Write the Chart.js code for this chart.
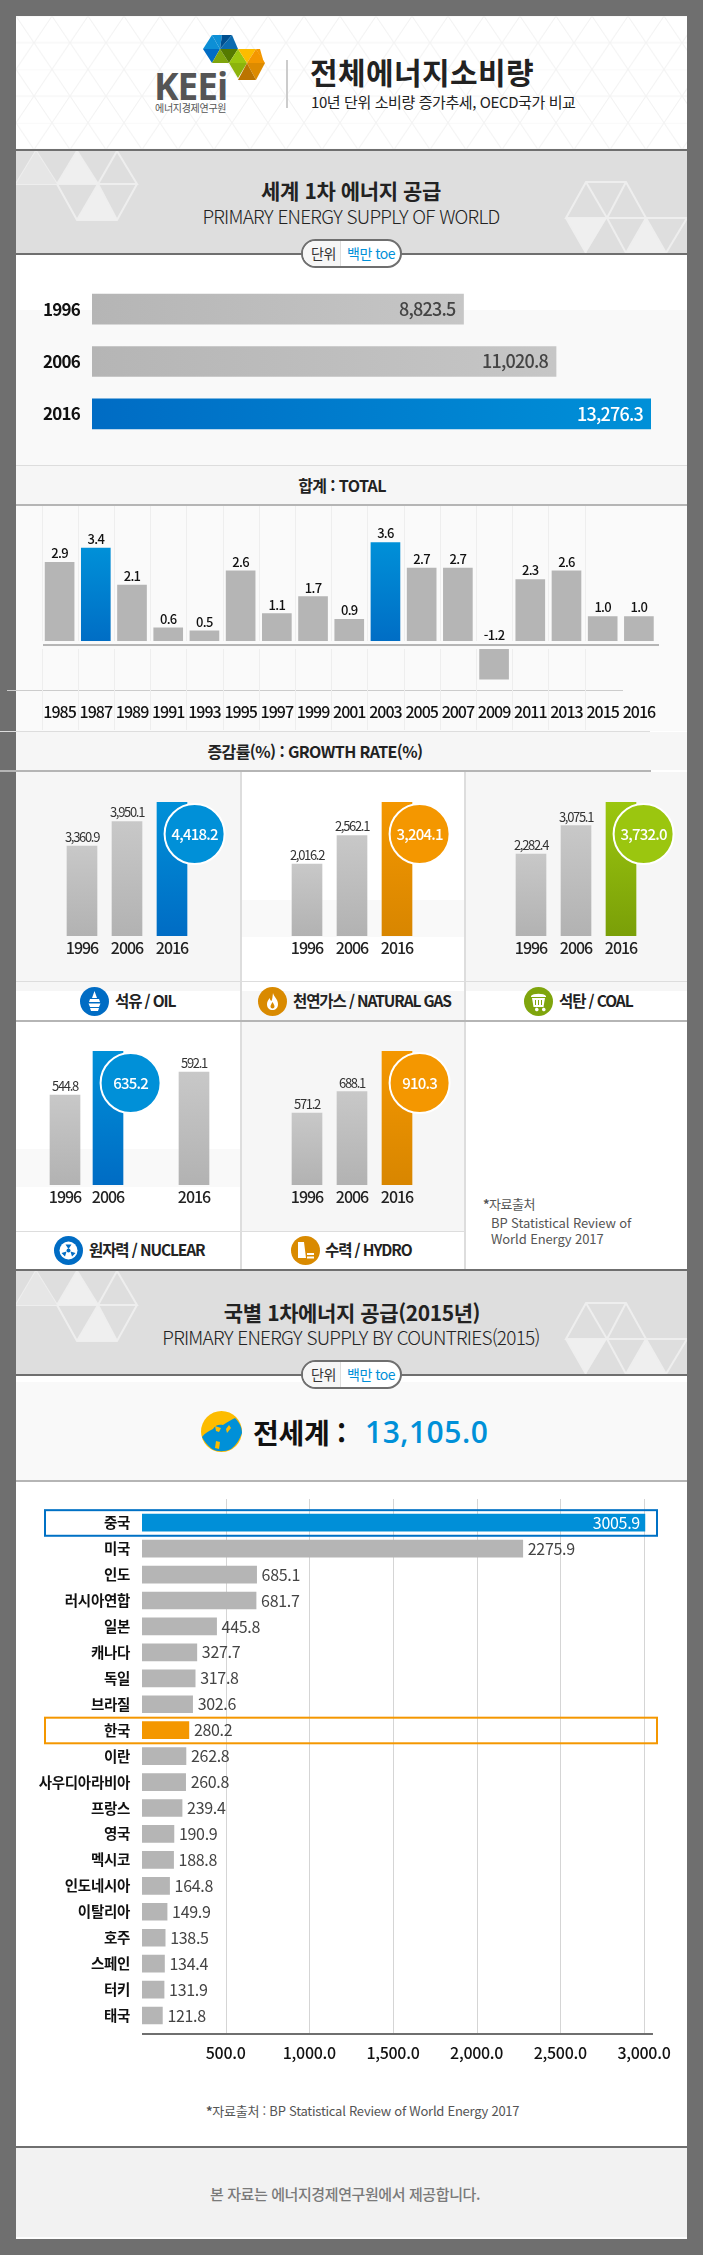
<!DOCTYPE html>
<html lang="ko">
<head>
<meta charset="utf-8">
<title>전체에너지소비량</title>
<script src="https://cdn.jsdelivr.net/npm/chart.js@4"></script>
<style>
  html,body{margin:0;padding:0;background:#6f6f6f}
  body{position:relative;width:703px;height:2255px;overflow:hidden;font-family:"Noto Sans CJK KR","Noto Sans",sans-serif;color:#222}
  .box,.t,canvas,svg.abs{position:absolute;display:block}
  .t{white-space:nowrap;line-height:1;transform:translateY(-50%)}
  .c{transform:translate(-50%,-50%)}
  .b{font-weight:700}
  .head{font-size:21px;font-weight:700;letter-spacing:-.4px;color:#222}
  .sub{font-size:19px;font-weight:300;letter-spacing:-.75px;color:#222}
  .cap{font-size:16px;font-weight:700;letter-spacing:-.6px;color:#222}
  .leg{font-size:15.5px;font-weight:700;letter-spacing:-1.1px;color:#222}
  .pill{position:absolute;left:301px;width:97px;height:25px;border:2px solid #6f6f6f;border-radius:15px;background:#fff;overflow:hidden}
  .pill i{position:absolute;left:0;top:0;bottom:0;width:37px;background:#f6f6f6;border-right:1px solid #ddd}
  .pill span{position:absolute;top:12px;transform:translateY(-50%);font-size:14px;line-height:1;white-space:nowrap;letter-spacing:-.5px}
</style>
</head>
<body>
<!-- panel backgrounds -->
<div class="box" style="left:16px;top:16px;width:671px;height:2223px;background:#fff"></div>
<svg class="abs" style="left:16px;top:16px" width="671" height="133">
  <defs><pattern id="lat" width="36" height="53.4" patternUnits="userSpaceOnUse" y="0">
    <path d="M0 0L18 26.7L36 0M0 53.4L18 26.7L36 53.4M0 26.7H36M0 0H36" fill="none" stroke="#f3f3f3" stroke-width="1"/>
  </pattern></defs>
  <rect width="671" height="133" fill="url(#lat)"/>
</svg>
<div class="box" style="left:16px;top:149px;width:671px;height:2px;background:#6f6f6f"></div>
<div class="box" style="left:16px;top:151px;width:671px;height:102px;background:#dedede"></div>
<div class="box" style="left:16px;top:253px;width:671px;height:2px;background:#6f6f6f"></div>
<div class="box" style="left:16px;top:310px;width:671px;height:155px;background:#f9f9f9"></div>
<div class="box" style="left:16px;top:465px;width:671px;height:1px;background:#ddd"></div>
<div class="box" style="left:16px;top:466px;width:671px;height:38px;background:#f6f6f6"></div>
<div class="box" style="left:16px;top:504px;width:671px;height:2px;background:#b5b5b5"></div>
<div class="box" style="left:16px;top:506px;width:671px;height:225px;background:#fafafa"></div>
<div class="box" style="left:7px;top:690px;width:616px;height:1px;background:#ccc"></div>
<div class="box" style="left:0;top:731px;width:650px;height:1px;background:#ddd"></div>
<div class="box" style="left:16px;top:732px;width:671px;height:38px;background:#f6f6f6"></div>
<div class="box" style="left:0;top:770px;width:651px;height:2px;background:#b5b5b5"></div>

<!-- small multiple cells -->
<div class="box" style="left:16px;top:772px;width:224px;height:209px;background:#f6f6f6"></div>
<div class="box" style="left:16px;top:981px;width:224px;height:10px;background:#f6f6f6"></div>
<div class="box" style="left:242px;top:900px;width:222px;height:37px;background:#f9f9f9"></div>
<div class="box" style="left:242px;top:991px;width:222px;height:29px;background:#f6f6f6"></div>
<div class="box" style="left:466px;top:772px;width:221px;height:219px;background:#f6f6f6"></div>
<div class="box" style="left:16px;top:1149px;width:224px;height:38px;background:#f9f9f9"></div>
<div class="box" style="left:242px;top:1022px;width:222px;height:209px;background:#f6f6f6"></div>
<div class="box" style="left:16px;top:981px;width:671px;height:1px;background:#ddd"></div>
<div class="box" style="left:16px;top:1231px;width:448px;height:1px;background:#ddd"></div>
<div class="box" style="left:240px;top:772px;width:2px;height:497px;background:#ddd"></div>
<div class="box" style="left:464px;top:772px;width:2px;height:497px;background:#ddd"></div>
<div class="box" style="left:16px;top:1020px;width:671px;height:2px;background:#b5b5b5"></div>

<div class="box" style="left:16px;top:1269px;width:671px;height:2px;background:#6f6f6f"></div>
<div class="box" style="left:16px;top:1271px;width:671px;height:103px;background:#dedede"></div>
<div class="box" style="left:16px;top:1374px;width:671px;height:2px;background:#6f6f6f"></div>
<div class="box" style="left:16px;top:1382px;width:671px;height:98px;background:#f9f9f9"></div>
<div class="box" style="left:16px;top:1480px;width:671px;height:2px;background:#b5b5b5"></div>
<div class="box" style="left:16px;top:2146px;width:671px;height:2px;background:#6f6f6f"></div>
<div class="box" style="left:16px;top:2148px;width:671px;height:89px;background:#f2f2f2"></div>

<!-- band triangles -->
<svg class="abs" style="left:16px;top:151px" width="671" height="102" id="tri1" viewBox="16 151 671 102">
  <g fill="none" stroke="#eee" stroke-width="2">
    <path d="M36 151L16 184H137L117 151L98 184L77 151L57 184L36 151M57 184L77 220H117L137 184M77 220L98 184L117 220"/>
    <path d="M586 182H626L646 218H566ZM607 218L586 182M607 218L626 182M566 218L586 253M607 218L626 253L646 218L666 253L687 218H646"/>
  </g>
  <path d="M36 151L16 184H57Z" fill="#e6e6e6"/>
  <path d="M77 151L57 184H98Z" fill="#efefef"/>
  <path d="M98 184L77 220H117Z" fill="#efefef"/>
  <path d="M566 218H607L586 253Z" fill="#efefef"/>
  <path d="M646 218L626 253H666Z" fill="#efefef"/>
</svg>
<svg class="abs" style="left:16px;top:1271px" width="671" height="103" viewBox="16 1271 671 103">
  <g fill="none" stroke="#eee" stroke-width="2">
    <path d="M36 1271L16 1305H137L117 1271L98 1305L77 1271L57 1305L36 1271M57 1305L77 1341H117L137 1305M77 1341L98 1305L117 1341"/>
    <path d="M586 1303H626L646 1339H566ZM607 1339L586 1303M607 1339L626 1303M566 1339L586 1374M607 1339L626 1374L646 1339L666 1374L687 1339H646"/>
  </g>
  <path d="M36 1271L16 1305H57Z" fill="#e6e6e6"/>
  <path d="M77 1271L57 1305H98Z" fill="#efefef"/>
  <path d="M98 1305L77 1341H117Z" fill="#efefef"/>
  <path d="M566 1339H607L586 1374Z" fill="#efefef"/>
  <path d="M646 1339L626 1374H666Z" fill="#efefef"/>
</svg>

<!-- header -->
<svg class="abs" style="left:200px;top:33px" width="68" height="50" viewBox="0 0 68 50">
  <path d="M12 2H22L20 16Z" fill="#0d8fd6"/><path d="M22 2H32L20 16Z" fill="#004f8f"/><path d="M32 2L38 16H20Z" fill="#0a6bb0"/>
  <path d="M12 2L3 16H20Z" fill="#0d8fd6"/><path d="M3 16L12 30L20 16Z" fill="#006cc4"/>
  <path d="M20 16L12 30H29Z" fill="#7fa50d"/><path d="M20 16H38L29 30Z" fill="#557a00"/>
  <path d="M38 16L29 30H47Z" fill="#9bc60f"/><path d="M38 16H56L47 30Z" fill="#fdbc00"/>
  <path d="M56 16L47 30H65Z" fill="#f49700"/><path d="M56 16L64 30L60 16Z" fill="#f49700"/>
  <path d="M29 30H47L38 45Z" fill="#8cb30c"/><path d="M47 30H65L56 47Z" fill="#dd8b00"/><path d="M47 30L56 47H38Z" fill="#bb7400"/>
</svg>
<div class="t b" style="left:154px;top:85px;font-size:37px;letter-spacing:-1px;color:#555;font-family:'Open Sans',sans-serif">KEEi</div>
<div class="t" style="left:155px;top:108px;font-size:10px;letter-spacing:-.3px;color:#555">에너지경제연구원</div>
<div class="box" style="left:286px;top:60px;width:2px;height:48px;background:#ccc"></div>
<div class="t b" style="left:310px;top:71px;font-size:30px;letter-spacing:.4px;color:#222">전체에너지소비량</div>
<div class="t" style="left:311px;top:101px;font-size:15px;letter-spacing:-.4px;color:#222">10년 단위 소비량 증가추세, OECD국가 비교</div>

<!-- section 1 -->
<div class="t c head" style="left:351px;top:190px">세계 1차 에너지 공급</div>
<div class="t c sub" style="left:351px;top:215px">PRIMARY ENERGY SUPPLY OF WORLD</div>
<div class="pill" style="top:239px"><i></i><span style="left:8px;color:#333">단위</span><span style="left:44px;color:#0090d8">백만 toe</span></div>
<canvas id="worldChart" width="671" height="217" style="left:16px;top:253px"></canvas>

<div class="t c cap" style="left:342px;top:485px">합계 : TOTAL</div>
<canvas id="growthChart" width="671" height="224" style="left:16px;top:506px"></canvas>
<div class="t c cap" style="left:315px;top:751px">증감률(%) : GROWTH RATE(%)</div>

<!-- small multiples -->
<canvas id="oilChart" width="224" height="209" style="left:16px;top:772px"></canvas>
<canvas id="gasChart" width="222" height="209" style="left:242px;top:772px"></canvas>
<canvas id="coalChart" width="221" height="209" style="left:466px;top:772px"></canvas>
<canvas id="nuclearChart" width="224" height="209" style="left:16px;top:1021px"></canvas>
<canvas id="hydroChart" width="222" height="209" style="left:242px;top:1021px"></canvas>

<!-- legend icons -->
<svg class="abs" style="left:80px;top:987px" width="29" height="29" viewBox="0 0 29 29"><circle cx="14.5" cy="14.5" r="14.5" fill="#006cc4"/><path d="M14.5 4L17 11H12ZM10 12H19L20 15H9ZM8.5 16.500H20.500L19 20H10ZM10 21H19L18 24H11Z" fill="#fff"/></svg>
<div class="t leg" style="left:115px;top:1001px">석유 / OIL</div>
<svg class="abs" style="left:258px;top:987px" width="29" height="29" viewBox="0 0 29 29"><circle cx="14.5" cy="14.500" r="14.5" fill="#d98a00"/><path d="M15 6C16 10 20 12 20 17C20 21 17.500 23 14.500 23C11.500 23 9 21 9 17C9 14.500 10.500 13 11.500 11C12 13 13 14 13.500 14C14.500 12 14.500 9 15 6ZM14.500 15C13.500 17 12.500 18 12.500 19.500C12.500 20.800 13.500 21.500 14.500 21.500C15.500 21.500 16.500 20.800 16.500 19.500C16.500 18 15.500 17 14.500 15Z" fill="#fff" fill-rule="evenodd"/></svg>
<div class="t leg" style="left:293px;top:1001px">천연가스 / NATURAL GAS</div>
<svg class="abs" style="left:524px;top:987px" width="29" height="29" viewBox="0 0 29 29"><circle cx="14.5" cy="14.5" r="14.5" fill="#7fa50d"/><path d="M7 9C9 6 20 6 22 9V10H7ZM8 11H21L19.500 20H9.500ZM11 22.500A1.800 1.800 0 1 0 11 22.400ZM18 22.500A1.800 1.800 0 1 0 18 22.400Z" fill="#fff"/><path d="M11.500 13V18M14.500 13V18M17.500 13V18" stroke="#7fa50d"/></svg>
<div class="t leg" style="left:559px;top:1001px">석탄 / COAL</div>
<svg class="abs" style="left:54px;top:1236px" width="29" height="29" viewBox="0 0 29 29"><circle cx="14.5" cy="14.5" r="14.5" fill="#006cc4"/><circle cx="14.5" cy="14.5" r="9" fill="#fff"/><circle cx="14.500" cy="14.500" r="2" fill="#006cc4"/><path d="M11.500 8.500L14.500 13L17.500 8.500ZM7.500 17L12.500 15.500L11 20.500ZM21.500 17L16.500 15.500L18 20.500Z" fill="#006cc4"/></svg>
<div class="t leg" style="left:89px;top:1250px">원자력 / NUCLEAR</div>
<svg class="abs" style="left:291px;top:1236px" width="29" height="29" viewBox="0 0 29 29"><circle cx="14.5" cy="14.5" r="14.5" fill="#d98a00"/><path d="M7 6H13L15 22H7ZM16 17H23V19H16ZM16 20.500H23V22.500H16Z" fill="#fff"/></svg>
<div class="t leg" style="left:325px;top:1250px">수력 / HYDRO</div>

<div class="t" style="left:483px;top:1203px;font-size:13px;letter-spacing:-.5px;color:#555"><b>*</b>자료출처</div>
<div class="t" style="left:491px;top:1222px;font-size:13px;letter-spacing:-.1px;color:#555">BP Statistical Review of</div>
<div class="t" style="left:491px;top:1238px;font-size:13px;letter-spacing:-.1px;color:#555">World Energy 2017</div>

<!-- section 2 -->
<div class="t c head" style="left:352px;top:1312px">국별 1차에너지 공급(2015년)</div>
<div class="t c sub" style="left:351px;top:1336px">PRIMARY ENERGY SUPPLY BY COUNTRIES(2015)</div>
<div class="pill" style="top:1360px"><i></i><span style="left:8px;color:#333">단위</span><span style="left:44px;color:#0090d8">백만 toe</span></div>
<svg class="abs" style="left:201px;top:1411px" width="41" height="41" viewBox="0 0 41 41">
  <circle cx="20.500" cy="20.500" r="20.500" fill="#fdbc00"/>
  <path d="M1 26C4 22 8 20 12 18C14 14 18 13 22 14C26 11 30 9 34 7C38 11 41 16 41 22C38 30 35 34 30 38C24 41 16 41 11 38C6 34 3 30 1 26Z" fill="#0090d8"/>
  <path d="M14 15L20 17L18 21L15 20ZM25 18L28 14L30 17L26 22ZM15 30L19 31L18 38L14 37Z" fill="#fdbc00"/>
</svg>
<div class="t b" style="left:253px;top:1432px;font-size:28px;letter-spacing:-.3px;color:#111">전세계 :</div>
<div class="t" style="left:365px;top:1432px;font-size:30px;font-weight:600;letter-spacing:.5px;color:#0090d8;font-family:'Open Sans',sans-serif">13,105.0</div>
<canvas id="countryChart" width="671" height="581" style="left:16px;top:1489px"></canvas>

<div class="t" style="left:206px;top:2110px;font-size:13px;letter-spacing:-.25px;color:#555"><b>*</b>자료출처 : BP Statistical Review of World Energy 2017</div>
<div class="t c" style="left:345px;top:2193px;font-size:15px;font-weight:500;letter-spacing:-.4px;color:#7a7a7a">본 자료는 에너지경제연구원에서 제공합니다.</div>

<script>
/* ---------- data ---------- */
const worldYears  = ['1996','2006','2016'];
const worldValues = [8823.5,11020.8,13276.3];

const growthYears  = ['1985','1987','1989','1991','1993','1995','1997','1999','2001','2003','2005','2007','2009','2011','2013','2015','2016'];
const growthValues = [2.9,3.4,2.1,0.6,0.5,2.6,1.1,1.7,0.9,3.6,2.7,2.7,-1.2,2.3,2.6,1.0,1.0];

const fuelYears     = ['1996','2006','2016'];
const nuclearYears  = ['1996','2006','','2016'];   // gap leaves room for the circle
const oilValues     = [3360.9,3950.1,4418.2];
const gasValues     = [2016.2,2562.1,3204.1];
const coalValues    = [2282.4,3075.1,3732.0];
const nuclearValues = [544.8,635.2,null,592.1];
const hydroValues   = [571.2,688.1,910.3];

const countryNames  = ['중국','미국','인도','러시아연합','일본','캐나다','독일','브라질','한국','이란','사우디아라비아','프랑스','영국','멕시코','인도네시아','이탈리아','호주','스페인','터키','태국'];
const countryValues = [3005.9,2275.9,685.1,681.7,445.8,327.7,317.8,302.6,280.2,262.8,260.8,239.4,190.9,188.8,164.8,149.9,138.5,134.4,131.9,121.8];
const countryTicks  = [500,1000,1500,2000,2500,3000];

/* ---------- helpers ---------- */
const FONT = '"Noto Sans CJK KR","Noto Sans",sans-serif';
const GREY = '#b5b5b5';
Chart.defaults.font.family = FONT;
Chart.defaults.animation = false;
Chart.defaults.responsive = false;
Chart.defaults.events = [];
Chart.defaults.plugins.legend.display = false;
Chart.defaults.plugins.tooltip.enabled = false;

const $ = id => document.getElementById(id);
const num = v => v.toLocaleString('en-US',{minimumFractionDigits:1,maximumFractionDigits:1});
const tight = px => ({id:'tight',beforeDraw(c){c.ctx.letterSpacing=px+'px';}});
const noGrid = {display:false,drawTicks:false};
function put(ctx,text,x,y,font,color,align,spacing){
  ctx.save();
  ctx.font=font; ctx.fillStyle=color; ctx.textAlign=align||'center'; ctx.textBaseline='middle';
  if(spacing!==undefined) ctx.letterSpacing=spacing+'px';
  ctx.fillText(text,x,y);
  ctx.restore();
}
function vGrad(c,top,bottom){
  const ch=c.chart;
  if(!ch.chartArea||c.raw==null) return bottom;
  const y=ch.scales.y;
  const g=ch.ctx.createLinearGradient(0,y.getPixelForValue(c.raw),0,y.getPixelForValue(y.min>0?y.min:0));
  g.addColorStop(0,top); g.addColorStop(1,bottom);
  return g;
}

/* ---------- 1 · world supply ---------- */
new Chart($('worldChart'),{
  type:'bar',
  data:{labels:worldYears,datasets:[{data:worldValues,barThickness:30,
    backgroundColor(c){
      const ch=c.chart;
      if(!ch.chartArea) return GREY;
      const g=ch.ctx.createLinearGradient(ch.chartArea.left,0,ch.scales.x.getPixelForValue(c.raw),0);
      const blue=c.dataIndex===2;
      g.addColorStop(0,blue?'#006cc4':'#b5b5b5'); g.addColorStop(1,blue?'#0090d8':'#c6c6c6');
      return g;
    }}]},
  options:{indexAxis:'y',layout:{padding:{top:30,bottom:30,right:36}},
    scales:{
      x:{display:false,min:0,max:worldValues[2]},
      y:{afterFit(s){s.width=76;},grid:noGrid,border:{display:false},
         ticks:{padding:12,color:'#111',font:{size:17,weight:'bold'}}}
    }},
  plugins:[tight(-.8),{id:'vals',afterDatasetsDraw(ch){
    ch.getDatasetMeta(0).data.forEach((b,i)=>put(ch.ctx,num(worldValues[i]),b.x-8,b.y,'500 18px '+FONT,i===2?'#fff':'#444','right'));
  }}]
});

/* ---------- 2 · growth rate ---------- */
new Chart($('growthChart'),{
  type:'bar',
  data:{labels:growthYears,datasets:[{data:growthValues,barThickness:29,
    backgroundColor:c=>(c.dataIndex===1||c.dataIndex===9)?vGrad(c,'#0090d8','#006cc4'):GREY}]},
  options:{layout:{padding:{left:25.5,right:30}},
    scales:{
      y:{display:false,min:-1.93,max:4.88},
      x:{afterFit(s){s.height=30;},border:{display:false},grid:noGrid,
         ticks:{padding:2,autoSkip:false,maxRotation:0,color:'#111',font:{size:16,weight:'500'}}}
    }},
  plugins:[tight(-1),{id:'gridExt',beforeDatasetsDraw(ch){
    // vertical guides run from the top of the canvas down past the year labels
    const ctx=ch.ctx, x=ch.scales.x, half=x.width/growthYears.length/2;
    ctx.fillStyle='#eeeeee';
    growthYears.slice(0,16).forEach((y,i)=>ctx.fillRect(Math.round(x.getPixelForValue(i)-half),0,1,224));
  },afterDatasetsDraw(ch){
    const ctx=ch.ctx, z=ch.scales.y.getPixelForValue(0);
    ctx.fillStyle='#fafafa'; ctx.fillRect(ch.chartArea.left,z-4,ch.chartArea.width,8);
    ctx.fillStyle=GREY; ctx.fillRect(27,z-1,616,2);
    ch.getDatasetMeta(0).data.forEach((b,i)=>{
      const v=growthValues[i];
      put(ctx,v.toFixed(1),b.x,v<0?z-10:b.y-9,'500 13px '+FONT,'#111','center',-.7);
    });
  }}]
});

/* ---------- 3 · fuel small multiples ---------- */
function fuelChart(id,years,values,hi,cols,min,left,right,canvasLeft){
  const canvas=$(id), big=values[hi];
  return new Chart(canvas,{
    type:'bar',
    data:{labels:years,datasets:[{data:values,barThickness:30,
      backgroundColor:c=>c.dataIndex===hi?vGrad(c,cols[0],cols[1]):vGrad(c,'#c8c8c8','#b2b2b2')}]},
    options:{layout:{padding:{top:30,left:left-canvasLeft,right:canvasLeft+canvas.width-right}},
      scales:{
        y:{display:false,min:min,max:big},
        x:{afterFit(s){s.height=45;},grid:noGrid,border:{display:false},
           ticks:{padding:2,autoSkip:false,maxRotation:0,color:'#222',font:{size:16,weight:'500'}}}
      }},
    plugins:[tight(-1),{id:'vals',afterDatasetsDraw(ch){
      const ctx=ch.ctx;
      ch.getDatasetMeta(0).data.forEach((b,i)=>{
        if(values[i]==null) return;
        if(i===hi){
          const cx=b.x+22.6, cy=b.y+32;
          ctx.beginPath(); ctx.arc(cx,cy,30,0,Math.PI*2);
          ctx.fillStyle=cols[0]; ctx.fill();
          ctx.lineWidth=2; ctx.strokeStyle='#fff'; ctx.stroke();
          put(ctx,num(values[i]),cx,cy,'500 15px '+FONT,'#fff','center',-.8);
        }else{
          put(ctx,num(values[i]),b.x,b.y-9,'13px '+FONT,'#333','center',-1.3);
        }
      });
    }}]
  });
}
const blues=['#0090d8','#006cc4'], oranges=['#f49700','#d88600'], greens=['#9bc60f','#7a9f08'];
fuelChart('oilChart',fuelYears,oilValues,2,blues,1198,59.5,194.5,16);
fuelChart('gasChart',fuelYears,gasValues,2,oranges,637,284.5,419.5,242);
fuelChart('coalChart',fuelYears,coalValues,2,greens,0,508.5,643.5,466);
fuelChart('nuclearChart',nuclearYears,nuclearValues,1,blues,360,43.5,215.5,16);
fuelChart('hydroChart',fuelYears,hydroValues,2,oranges,178,284.5,419.5,242);

/* ---------- 4 · countries ---------- */
new Chart($('countryChart'),{
  type:'bar',
  data:{labels:countryNames,datasets:[{data:countryValues,barThickness:17,
    backgroundColor:countryNames.map((n,i)=>i===0?'#008fd8':i===8?'#f49700':GREY)}]},
  options:{indexAxis:'y',layout:{padding:{top:0,right:28}},
    scales:{
      x:{min:0,max:3054,afterFit(s){s.height=41.5;},grid:noGrid,border:{display:false},
         afterBuildTicks(s){s.ticks=countryTicks.map(v=>({value:v}));},
         ticks:{padding:15,color:'#111',font:{size:16,weight:'500'},callback:v=>num(v)}},
      y:{afterFit(s){s.width=126;},grid:noGrid,border:{display:false},
         ticks:{padding:12,autoSkip:false,color:'#111',font:{size:14.5,weight:'bold'}}}
    }},
  plugins:[tight(-.3),{id:'gridExt',beforeDatasetsDraw(ch){
    const ctx=ch.ctx, x=ch.scales.x;
    ctx.fillStyle='#d5d5d5';
    x.ticks.forEach(t=>ctx.fillRect(Math.round(x.getPixelForValue(t.value)),10,1,534));
  },afterDatasetsDraw(ch){
    const ctx=ch.ctx, y=ch.scales.y;
    ctx.fillStyle='#6f6f6f'; ctx.fillRect(ch.chartArea.left,544,ch.chartArea.width,2);
    [[0,'#0071c5'],[8,'#f49700']].forEach(([i,col])=>{
      ctx.lineWidth=2; ctx.strokeStyle=col;
      ctx.strokeRect(29,y.getPixelForValue(i)-12.5,612,25.6);
    });
    ch.getDatasetMeta(0).data.forEach((b,i)=>{
      if(i===0) put(ctx,countryValues[i].toFixed(1),b.x-5,b.y,'16px '+FONT,'#fff','right');
      else put(ctx,countryValues[i].toFixed(1),b.x+5,b.y,'16px '+FONT,'#444','left');
    });
  }}]
});
</script>
</body>
</html>
